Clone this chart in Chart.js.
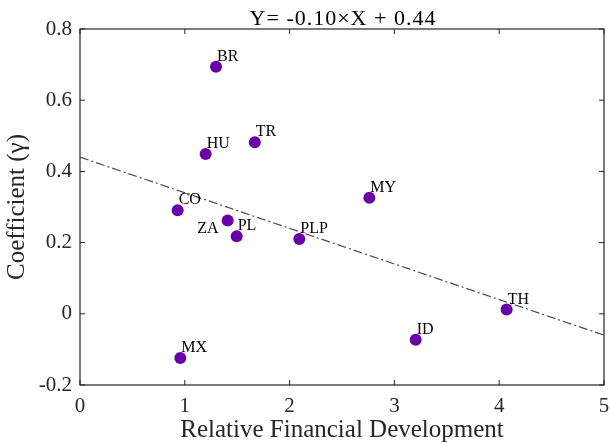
<!DOCTYPE html>
<html>
<head>
<meta charset="utf-8">
<script src="https://cdn.jsdelivr.net/npm/chart.js@4/dist/chart.umd.min.js"></script>
<style>
  html, body { margin: 0; padding: 0; background: #ffffff; }
  #wrap { width: 610px; height: 443px; }
</style>
</head>
<body>
<div id="wrap"><canvas id="c" width="610" height="443"></canvas></div>
<script>
// Country codes and their coordinates
const countries = ['BR', 'HU', 'TR', 'MY', 'CO', 'ZA', 'PL', 'PLP', 'TH', 'ID', 'MX'];
const finDev = [1.298, 1.199, 1.668, 2.761, 0.932, 1.409, 1.495, 2.093, 4.071, 3.203, 0.957];
const gamma = [0.694, 0.449, 0.482, 0.326, 0.291, 0.262, 0.218, 0.210, 0.012, -0.073, -0.124];

// Axis tick labels
const xTickLabels = ['0', '1', '2', '3', '4', '5'];
const yTickLabels = ['-0.2', '0', '0.2', '0.4', '0.6', '0.8'];

// Fitted regression line
const fitSlope = -0.10;
const fitIntercept = 0.44;

const titleText = 'Y= ' + fitSlope.toFixed(2) + '\u00D7X + ' + fitIntercept.toFixed(2);

const SERIF = "'Liberation Serif', 'Times New Roman', serif";
const AXIS_COLOR = '#262626';
const POINT_COLOR = '#6a00a8';
const labelsOnLeft = ['ZA'];

const xMin = parseFloat(xTickLabels[0]);
const xMax = parseFloat(xTickLabels[xTickLabels.length - 1]);
const yMin = parseFloat(yTickLabels[0]);
const yMax = parseFloat(yTickLabels[yTickLabels.length - 1]);

const points = countries.map((c, i) => ({ x: finDev[i], y: gamma[i] }));
const fitLine = [xMin, xMax].map(x => ({ x: x, y: fitSlope * x + fitIntercept }));

// Box frame with inward tick marks on all four sides, plus the title
const framePlugin = {
  id: 'frame',
  beforeDatasetsDraw(chart) {
    const { ctx, chartArea: a, scales } = chart;
    ctx.save();
    ctx.strokeStyle = AXIS_COLOR;
    ctx.lineWidth = 1.2;
    ctx.strokeRect(a.left, a.top, a.right - a.left, a.bottom - a.top);
    const len = 5;
    ctx.beginPath();
    scales.x.ticks.forEach(t => {
      const px = scales.x.getPixelForValue(t.value);
      ctx.moveTo(px, a.bottom); ctx.lineTo(px, a.bottom - len);
      ctx.moveTo(px, a.top); ctx.lineTo(px, a.top + len);
    });
    scales.y.ticks.forEach(t => {
      const py = scales.y.getPixelForValue(t.value);
      ctx.moveTo(a.left, py); ctx.lineTo(a.left + len, py);
      ctx.moveTo(a.right, py); ctx.lineTo(a.right - len, py);
    });
    ctx.lineWidth = 1;
    ctx.stroke();
    ctx.restore();
  },
  afterDraw(chart) {
    const { ctx, chartArea: a } = chart;
    ctx.save();
    ctx.fillStyle = '#000000';
    ctx.font = '22px ' + SERIF;
    ctx.letterSpacing = '1px';
    ctx.textAlign = 'center';
    ctx.textBaseline = 'alphabetic';
    ctx.fillText(titleText, (a.left + a.right) / 2 + 1, 25);
    ctx.restore();
  }
};

// Country code next to each marker
const labelPlugin = {
  id: 'pointLabels',
  afterDatasetsDraw(chart) {
    const { ctx, scales } = chart;
    ctx.save();
    ctx.fillStyle = '#000000';
    ctx.font = '16px ' + SERIF;
    ctx.textBaseline = 'alphabetic';
    countries.forEach((c, i) => {
      const px = scales.x.getPixelForValue(finDev[i]);
      const py = scales.y.getPixelForValue(gamma[i]);
      if (labelsOnLeft.includes(c)) {
        ctx.textAlign = 'right';
        ctx.fillText(c, px - 9, py + 12);
      } else {
        ctx.textAlign = 'left';
        ctx.fillText(c, px + 1, py - 6);
      }
    });
    ctx.restore();
  }
};

new Chart(document.getElementById('c'), {
  type: 'scatter',
  data: {
    datasets: [
      {
        type: 'line',
        data: fitLine,
        borderColor: '#4a4a4a',
        borderWidth: 1.2,
        borderDash: [9, 3, 2, 3],
        pointRadius: 0,
        fill: false,
        order: 2
      },
      {
        data: points,
        backgroundColor: POINT_COLOR,
        borderColor: POINT_COLOR,
        borderWidth: 0,
        pointRadius: 6,
        order: 1
      }
    ]
  },
  options: {
    responsive: false,
    devicePixelRatio: 1,
    animation: false,
    layout: { padding: { top: 29, right: 6, left: 0, bottom: 0 } },
    plugins: {
      legend: { display: false },
      tooltip: { enabled: false },
      title: { display: false }
    },
    scales: {
      x: {
        type: 'linear',
        min: xMin,
        max: xMax,
        afterBuildTicks: s => { s.ticks = xTickLabels.map(l => ({ value: parseFloat(l) })); },
        afterFit: s => { s.height = 58; s.paddingLeft = 0; s.paddingRight = 0; },
        grid: { display: false, drawTicks: false },
        border: { display: false },
        ticks: {
          padding: 9,
          color: AXIS_COLOR,
          font: { family: SERIF, size: 21 },
          maxRotation: 0,
          callback: v => xTickLabels.find(l => parseFloat(l) === v)
        },
        title: {
          display: true,
          text: 'Relative Financial Development',
          color: AXIS_COLOR,
          font: { family: SERIF, size: 25, lineHeight: 1 },
          padding: { top: 0, bottom: 0 }
        }
      },
      y: {
        type: 'linear',
        min: yMin,
        max: yMax,
        afterBuildTicks: s => { s.ticks = yTickLabels.map(l => ({ value: parseFloat(l) })); },
        afterFit: s => { s.width = 80; s.paddingTop = 0; s.paddingBottom = 0; },
        grid: { display: false, drawTicks: false },
        border: { display: false },
        ticks: {
          padding: 8,
          color: AXIS_COLOR,
          font: { family: SERIF, size: 21 },
          callback: v => yTickLabels.find(l => parseFloat(l) === v)
        },
        title: {
          display: true,
          text: 'Coefficient (\u03B3)',
          color: AXIS_COLOR,
          font: { family: SERIF, size: 25, lineHeight: 1 },
          padding: { top: 5, bottom: 0 }
        }
      }
    }
  },
  plugins: [framePlugin, labelPlugin]
});
</script>
</body>
</html>
